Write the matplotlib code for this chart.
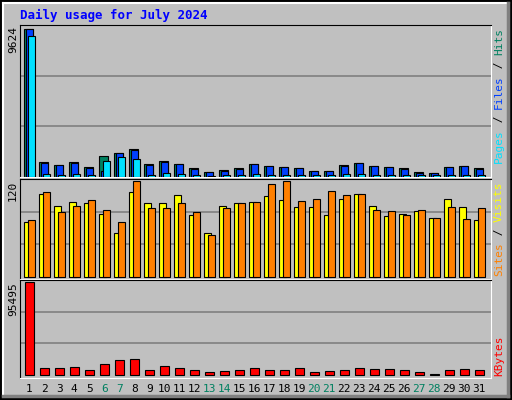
import numpy as np
import matplotlib.pyplot as plt
from matplotlib.patches import Rectangle

# --------------------------
# Data
# --------------------------
days = list(range(1, 32))
weekend = [6, 7, 13, 14, 20, 21, 27, 28]

hits = [9624, 1008, 813, 1008, 675, 1389, 1589, 1850, 871, 1067, 871, 610,
        350, 480, 610, 871, 740, 675, 610, 414, 414, 806, 936, 740, 675, 610,
        350, 283, 675, 740, 610]
files = [9624, 936, 762, 936, 610, 392, 1589, 1785, 806, 1002, 871, 545,
         350, 414, 545, 871, 740, 675, 610, 414, 414, 740, 936, 740, 675, 545,
         283, 283, 675, 740, 545]
pages = [9190, 218, 153, 218, 153, 1067, 1328, 1197, 153, 283, 218, 153,
         44, 153, 153, 218, 153, 153, 153, 153, 153, 218, 218, 153, 153, 153,
         153, 153, 153, 153, 153]

sites = [67, 102, 87, 92, 90, 77, 54, 104, 90, 90, 100, 76, 54, 87, 90, 92,
         99, 94, 85, 86, 76, 96, 102, 87, 75, 77, 81, 72, 96, 85, 70]
visits = [70, 104, 80, 87, 94, 82, 67, 117, 84, 84, 91, 80, 51, 84, 90, 92,
          114, 117, 93, 95, 105, 100, 102, 82, 81, 76, 82, 72, 85, 71, 84]

kbytes = [95495, 6940, 6940, 7981, 4858, 11104, 15268, 16309, 4858, 9022,
          6940, 4858, 2776, 3817, 4858, 6940, 4858, 4858, 6940, 2776, 3817,
          4858, 6940, 5899, 5899, 4858, 2776, 1388, 4858, 5899, 4858]

BG = '#C0C0C0'
W, H = 512, 400

fig = plt.figure(figsize=(W / 100, H / 100), dpi=100, facecolor=BG)

# outer bevel
fig.patches.append(Rectangle((1 / W, 1 / H), 1 - 2 / W, 1 - 2 / H, transform=fig.transFigure,
                             fill=False, edgecolor='black', lw=1.5))
fig.add_artist(plt.Line2D([3 / W, 3 / W], [4 / H, 1 - 3 / H], color='white', lw=1.5))
fig.add_artist(plt.Line2D([3 / W, 1 - 3 / W], [1 - 3 / H, 1 - 3 / H], color='white', lw=1.5))
fig.add_artist(plt.Line2D([1 - 4 / W, 1 - 4 / W], [4 / H, 1 - 3 / H], color='#808080', lw=2.5))
fig.add_artist(plt.Line2D([3 / W, 1 - 4 / W], [4 / H, 4 / H], color='#808080', lw=2.5))

mono = 'DejaVu Sans Mono'
fig.text(20 / W, 1 - 15 / H, 'Daily usage for July 2024', color='#0000FF',
         family=mono, weight='bold', fontsize=9, va='center', ha='left')


def panel(y0, y1):
    ax = fig.add_axes([20 / W, 1 - y1 / H, (491 - 20) / W, (y1 - y0) / H])
    ax.set_facecolor(BG)
    ax.set_xlim(0.8, 32.2)
    ax.set_xticks([])
    ax.set_yticks([])
    for s in ax.spines.values():
        s.set_color('black')
    ax.spines['bottom'].set_color('white')
    ax.spines['right'].set_color('white')
    return ax


def grid(ax, top):
    for f in (1 / 3, 2 / 3):
        ax.axhline(top * f, color='#808080', lw=1.2, zorder=0)


d = np.array(days)

# top panel: hits / files / pages
ax1 = panel(25, 177)
top1 = max(hits) * 1.03
ax1.set_ylim(0, top1)
grid(ax1, top1)
ax1.bar(d + 0.05, hits, width=0.6, align='edge', color='#008060', edgecolor='black', lw=0.8, zorder=2)
ax1.bar(d + 0.18, files, width=0.5, align='edge', color='#0040FF', edgecolor='black', lw=0.8, zorder=3)
ax1.bar(d + 0.35, pages, width=0.45, align='edge', color='#00E0FF', edgecolor='black', lw=0.8, zorder=4)

# middle panel: sites / visits
ax2 = panel(179, 279)
top2 = 120
ax2.set_ylim(-3, top2)
grid(ax2, top2)
ax2.bar(d + 0.05, sites, width=0.5, align='edge', color='#FFFF00', edgecolor='black', lw=0.8, zorder=2)
ax2.bar(d + 0.3, visits, width=0.5, align='edge', color='#FF8000', edgecolor='black', lw=0.8, zorder=3)

# bottom panel: kbytes
ax3 = panel(280, 378)
top3 = max(kbytes) * 1.02
ax3.set_ylim(-top3 * 0.03, top3)
grid(ax3, top3)
ax3.bar(d + 0.1, kbytes, width=0.65, align='edge', color='#FF0000', edgecolor='black', lw=0.8, zorder=2)

# max value labels
for yy, txt in ((26, str(max(hits))), (181, str(top2)), (282, str(max(kbytes)))):
    fig.text(13 / W, 1 - yy / H, txt, rotation=90, family=mono, fontsize=8,
             va='top', ha='center')

# day labels
for day in days:
    x = (20 + (day + 0.42 - 0.8) / 31.4 * 471) / W
    fig.text(x, 1 - 389 / H, str(day), family=mono, fontsize=8, ha='center', va='center',
             color='#008060' if day in weekend else 'black')


def side_label(ytop, parts):
    # stacked rotated labels read bottom-to-top, ending at ytop
    total = sum(len(t) for t, _ in parts)
    step = 6.75
    y = ytop + total * step
    for t, c in parts:
        fig.text(499 / W, 1 - y / H, t, rotation=90, family=mono, fontsize=8,
                 color=c, va='bottom', ha='center')
        y -= len(t) * step


side_label(28, [('Pages', '#00E0FF'), (' / ', 'black'), ('Files', '#0040FF'),
                (' / ', 'black'), ('Hits', '#008060')])
side_label(181, [('Sites', '#FF8000'), (' / ', 'black'), ('Visits', '#FFFF00')])
side_label(335, [('KBytes', '#FF0000')])

fig.savefig('out.png', dpi=100, facecolor=BG)
